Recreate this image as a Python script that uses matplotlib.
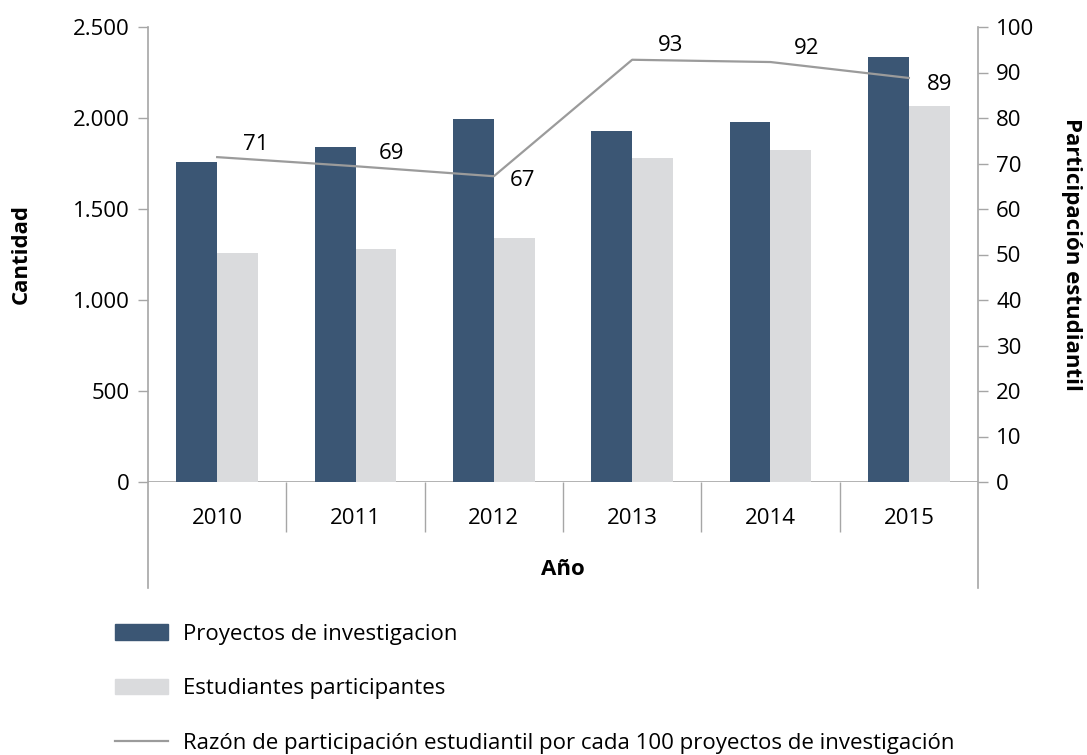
"""
proyectos de investigacion y estudiantes participantes, 2010-2015
"""

import numpy as np
import matplotlib as mpl
import matplotlib.pyplot as plt
from matplotlib.patches import Patch
from matplotlib.lines import Line2D
from matplotlib.ticker import FuncFormatter

years = ['2010', '2011', '2012', '2013', '2014', '2015']
proyectos = [1758, 1841, 1995, 1929, 1978, 2335]
estudiantes = [1258, 1280, 1341, 1780, 1824, 2066]
razon = [71.4, 69.4, 67.2, 92.8, 92.3, 88.8]

DARK = '#3b5674'
LIGHT = '#dadbdd'
LINE = '#9b9b9b'
AXIS = '#a6a6a6'
FS = 16

mpl.rcParams['font.family'] = ['Open Sans', 'DejaVu Sans']
mpl.rcParams['font.size'] = FS

fig = plt.figure(figsize=(10.87, 7.55), dpi=100)
ax = fig.add_axes([148/1087, 1-482/755, (978-148)/1087, (482-27)/755])
ax2 = ax.twinx()

x = np.arange(len(years))
w = 0.295
ax.bar(x - w/2, proyectos, w, color=DARK, zorder=2)
ax.bar(x + w/2, estudiantes, w, color=LIGHT, zorder=2)
ax.set_xlim(-0.5, len(years) - 0.5)
ax.set_ylim(0, 2500)
ax.set_yticks(range(0, 2501, 500))
ax.yaxis.set_major_formatter(FuncFormatter(lambda v, p: f'{int(v):,}'.replace(',', '.')))

ax2.plot(x, razon, color=LINE, lw=1.6, zorder=3)
ax2.set_ylim(0, 100)
ax2.set_yticks(range(0, 101, 10))

# data labels, offsets in points
offsets = [(28, 9), (26, 9), (21, -3), (28, 10), (26, 10), (22, -5)]
for xi, v, (dx, dy) in zip(x, razon, offsets):
    ax2.annotate(f'{round(v)}', (xi, v), xytext=(dx, dy), textcoords='offset points',
                 ha='center', va='center', fontsize=FS)

for a in (ax, ax2):
    for s in a.spines.values():
        s.set_visible(False)
    a.tick_params(axis='y', length=7, width=1, color=AXIS, pad=6, labelsize=FS)

# axis lines
ax.axhline(0, color=AXIS, lw=1.2, zorder=1)
ext = (588 - 482) / 455
ax.plot([0, 0], [1, -ext], transform=ax.transAxes, color=AXIS, lw=1.2, clip_on=False)
ax.plot([1, 1], [1, -ext], transform=ax.transAxes, color=AXIS, lw=1.2, clip_on=False)

# category ticks
ax.set_xticks(x)
ax.set_xticklabels(years)
ax.tick_params(axis='x', length=0, pad=19, labelsize=FS)
ax.set_xticks(np.arange(0.5, len(years) - 1, 1), minor=True)
ax.tick_params(axis='x', which='minor', length=36, width=1, color=AXIS)

ax.set_xlabel('Año', fontweight='bold', fontsize=FS, labelpad=16)
ax.set_ylabel('Cantidad', fontweight='bold', fontsize=FS, labelpad=30)
ax2.set_ylabel('Participación estudiantil', fontweight='bold', fontsize=FS,
               rotation=-90, labelpad=34)

handles = [Patch(color=DARK), Patch(color=LIGHT), Line2D([], [], color=LINE, lw=1.6)]
labels = ['Proyectos de investigacion', 'Estudiantes participantes',
          'Razón de participación estudiantil por cada 100 proyectos de investigación']
fig.legend(handles, labels, loc='upper left', bbox_to_anchor=(115/1087, 1-624/755),
           frameon=False, borderpad=0, borderaxespad=0, fontsize=FS,
           handlelength=2.4, handleheight=0.7, handletextpad=0.65, labelspacing=1.5)

fig.savefig('out.png', dpi=100)
